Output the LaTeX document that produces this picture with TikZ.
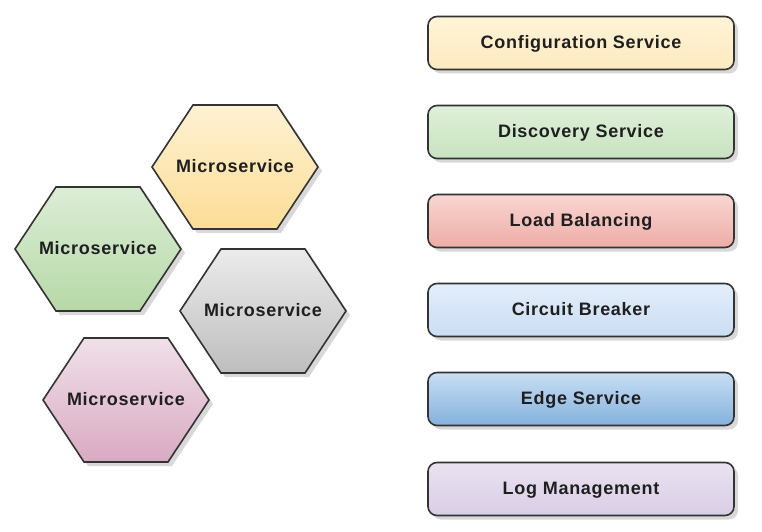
\documentclass[tikz,border=0pt]{standalone}
\usepackage{fontspec}
\setmainfont{Liberation Sans}
\newfontfamily\lblfont[LetterSpace=4]{Liberation Sans}
\usetikzlibrary{shadows}
% colours
\definecolor{cfgT}{HTML}{FFF4D8}\definecolor{cfgB}{HTML}{FCEAC0}
\definecolor{disT}{HTML}{DFF0DA}\definecolor{disB}{HTML}{C8E2BF}
\definecolor{lbT}{HTML}{F9D6D2}\definecolor{lbB}{HTML}{EDACA7}
\definecolor{cbT}{HTML}{E3EEFA}\definecolor{cbB}{HTML}{CADDF3}
\definecolor{edT}{HTML}{C8DEF3}\definecolor{edB}{HTML}{84B1DD}
\definecolor{lgT}{HTML}{EAE2F0}\definecolor{lgB}{HTML}{D9CDE5}
\definecolor{yelT}{HTML}{FEF2D4}\definecolor{yelB}{HTML}{FCDD96}
\definecolor{grnT}{HTML}{DCEDD6}\definecolor{grnB}{HTML}{B6D9A7}
\definecolor{gryT}{HTML}{EBEBEB}\definecolor{gryB}{HTML}{BEBEBE}
\definecolor{pnkT}{HTML}{F0E0E9}\definecolor{pnkB}{HTML}{D9AAC2}
\tikzset{
  svcbox/.style={draw=black!80,line width=1.6pt,rounded corners=9pt,
    minimum width=306pt,minimum height=53pt,text=black!88,
    text height=11pt,text depth=0pt,
    font=\lblfont\bfseries\fontsize{18}{20}\selectfont,
    drop shadow={shadow xshift=4pt,shadow yshift=-4pt,fill=black!30}},
  hexa/.style={draw=black!80,line width=1.6pt,line join=miter,
    drop shadow={shadow xshift=4pt,shadow yshift=-4pt,fill=black!30}},
  mslabel/.style={text=black!88,text height=11pt,text depth=0pt,
    font=\lblfont\bfseries\fontsize{18}{20}\selectfont}
}
\begin{document}
\begin{tikzpicture}[x=1pt,y=-1pt]
\useasboundingbox (0,0) rectangle (762,532);
%microservices
\foreach \n/\x/\y/\ct/\cb in {msa/235/167/yelT/yelB,msb/98/249/grnT/grnB,
    msc/263/311/gryT/gryB,msd/126/400/pnkT/pnkB}
{
  \draw[hexa,top color=\ct,bottom color=\cb]
    (\x-83,\y)--(\x-42,\y-62)--(\x+42,\y-62)--(\x+83,\y)--(\x+42,\y+62)--(\x-42,\y+62)--cycle;
  \node[mslabel] (\n) at (\x,\y) {Microservice};
}
%services
\foreach \n/\y/\ct/\cb/\txt in {cfg/43/cfgT/cfgB/Configuration Service,
    dis/132/disT/disB/Discovery Service,lb/221/lbT/lbB/Load Balancing,
    cb/310/cbT/cbB/Circuit Breaker,ed/399/edT/edB/Edge Service,
    lg/489/lgT/lgB/Log Management}
  \node[svcbox,top color=\ct,bottom color=\cb] (\n) at (581,\y) {\txt};
\end{tikzpicture}
\end{document}
